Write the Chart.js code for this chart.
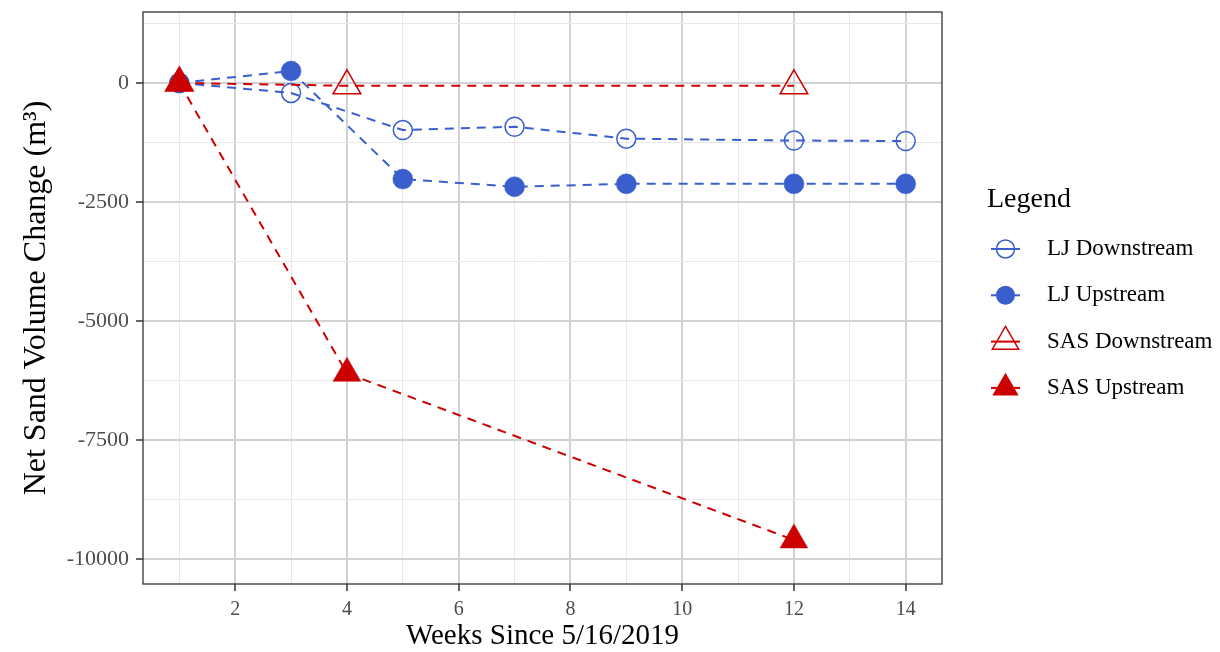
<!DOCTYPE html>
<html>
<head>
<meta charset="utf-8">
<script src="https://cdn.jsdelivr.net/npm/chart.js@4"></script>
<style>
body{margin:0;background:#fff;}
</style>
</head>
<body>
<canvas id="sandChart" width="1220" height="652"></canvas>
<script>

// weeks and net sand volume change (m3)
const ljDownWeeks = [1, 3, 5, 7, 9, 12, 14];
const ljDownValues = [0, -210, -990, -920, -1170, -1210, -1220];

const ljUpWeeks = [1, 3, 5, 7, 9, 12, 14];
const ljUpValues = [0, 250, -2020, -2180, -2120, -2120, -2120];

const sasDownWeeks = [1, 4, 12];
const sasDownValues = [0, -60, -60];

const sasUpWeeks = [1, 4, 12];
const sasUpValues = [0, -6100, -9600];

const seriesNames = ["LJ Downstream", "LJ Upstream", "SAS Downstream", "SAS Upstream"];

// axis ticks
const xGridValues = [1, 2, 3, 4, 5, 6, 7, 8, 9, 10, 11, 12, 13, 14];
const xLabelValues = [2, 4, 6, 8, 10, 12, 14];
const yGridValues = [1250, 0, -1250, -2500, -3750, -5000, -6250, -7500, -8750, -10000];
const yLabelValues = [0, -2500, -5000, -7500, -10000];

const blue = "#3A5FCD";
const red = "#CD0000";
const serif = "'Liberation Serif', 'Times New Roman', serif";

function pts(xs, ys){
  return xs.map((x, i) => ({x: x, y: ys[i]}));
}

const styles = [
  {color: blue, shape: "circle", filled: false, r: 9.5},
  {color: blue, shape: "circle", filled: true, r: 10},
  {color: red, shape: "triangle", filled: false, r: 16},
  {color: red, shape: "triangle", filled: true, r: 16}
];

const seriesData = [
  pts(ljDownWeeks, ljDownValues),
  pts(ljUpWeeks, ljUpValues),
  pts(sasDownWeeks, sasDownValues),
  pts(sasUpWeeks, sasUpValues)
];

const datasets = seriesNames.map((name, i) => {
  const s = styles[i];
  return {
    label: name,
    data: seriesData[i],
    borderColor: s.color,
    backgroundColor: s.color,
    borderWidth: 2,
    borderDash: [9, 7],
    fill: false,
    tension: 0,
    pointStyle: s.shape,
    pointRadius: s.r,
    pointBackgroundColor: s.filled ? s.color : "rgba(0,0,0,0)",
    pointBorderColor: s.color,
    pointBorderWidth: s.filled ? 0.5 : 1.5,
    order: 4 - i
  };
});

function drawMarker(ctx, s, x, y){
  ctx.save();
  ctx.beginPath();
  if(s.shape === "circle"){
    ctx.arc(x, y, s.r, 0, Math.PI * 2);
  } else {
    let a = 0;
    ctx.moveTo(x + Math.sin(a) * s.r, y - Math.cos(a) * s.r);
    a += Math.PI * 2 / 3;
    ctx.lineTo(x + Math.sin(a) * s.r, y - Math.cos(a) * s.r);
    a += Math.PI * 2 / 3;
    ctx.lineTo(x + Math.sin(a) * s.r, y - Math.cos(a) * s.r);
    ctx.closePath();
  }
  if(s.filled){
    ctx.fillStyle = s.color;
    ctx.fill();
  } else {
    ctx.strokeStyle = s.color;
    ctx.lineWidth = 1.5;
    ctx.stroke();
  }
  ctx.restore();
}

const ggExtras = {
  id: "ggExtras",
  afterDraw(chart){
    const ctx = chart.ctx;
    const a = chart.chartArea;
    // panel border
    ctx.save();
    ctx.strokeStyle = "#333333";
    ctx.lineWidth = 1.3;
    ctx.strokeRect(a.left, a.top, a.right - a.left, a.bottom - a.top);
    ctx.restore();

    // legend
    ctx.save();
    ctx.fillStyle = "#000";
    ctx.textBaseline = "middle";
    ctx.font = "28px " + serif;
    ctx.fillText("Legend", 987, 200);
    ctx.font = "23px " + serif;
    seriesNames.forEach((name, i) => {
      const y = 249 + i * 46.3;
      const s = styles[i];
      ctx.strokeStyle = s.color;
      ctx.lineWidth = 2;
      ctx.beginPath();
      ctx.moveTo(991, y);
      ctx.lineTo(1020, y);
      ctx.stroke();
      drawMarker(ctx, {color: s.color, shape: s.shape, filled: s.filled, r: s.r * 0.95}, 1005.5, y);
      ctx.fillStyle = "#000";
      ctx.fillText(name, 1047, y);
    });
    ctx.restore();
  }
};

new Chart("sandChart", {
  type: "line",
  data: {datasets: datasets},
  options: {
    responsive: false,
    animation: false,
    layout: {autoPadding: false, padding: {top: 12, right: 278, left: 0, bottom: 0}},
    plugins: {
      legend: {display: false},
      tooltip: {enabled: false}
    },
    scales: {
      x: {
        type: "linear",
        min: 0.35,
        max: 14.65,
        afterBuildTicks: (scale) => { scale.ticks = xGridValues.map(v => ({value: v})); },
        afterFit: (scale) => { scale.height = 68; scale.paddingLeft = 0; scale.paddingRight = 0; },
        border: {display: false},
        grid: {
          color: (c) => xLabelValues.includes(c.tick.value) ? "#d2d2d2" : "#e8e8e8",
          lineWidth: (c) => xLabelValues.includes(c.tick.value) ? 2 : 1,
          tickColor: (c) => xLabelValues.includes(c.tick.value) ? "#333333" : "rgba(0,0,0,0)",
          tickLength: 7,
          tickWidth: 1.5
        },
        ticks: {
          autoSkip: false,
          maxRotation: 0,
          padding: 7,
          color: "#4d4d4d",
          font: {family: serif, size: 20},
          callback: (v) => xLabelValues.includes(v) ? String(v) : ""
        },
        title: {
          display: true,
          text: "Weeks Since 5/16/2019",
          color: "#000",
          font: {family: serif, size: 29, lineHeight: 1.0},
          padding: {top: 1, bottom: 1}
        }
      },
      y: {
        type: "linear",
        min: -10525,
        max: 1490,
        afterBuildTicks: (scale) => { scale.ticks = yGridValues.map(v => ({value: v})); },
        afterFit: (scale) => { scale.width = 143; scale.paddingTop = 0; scale.paddingBottom = 0; },
        border: {display: false},
        grid: {
          color: (c) => yLabelValues.includes(c.tick.value) ? "#d2d2d2" : "#e8e8e8",
          lineWidth: (c) => yLabelValues.includes(c.tick.value) ? 2 : 1,
          tickColor: (c) => yLabelValues.includes(c.tick.value) ? "#333333" : "rgba(0,0,0,0)",
          tickLength: 7,
          tickWidth: 1.5
        },
        ticks: {
          autoSkip: false,
          padding: 7,
          color: "#4d4d4d",
          font: {family: serif, size: 22},
          callback: (v) => yLabelValues.includes(v) ? String(v) : ""
        },
        title: {
          display: true,
          text: "Net Sand Volume Change (m³)",
          color: "#000",
          font: {family: serif, size: 32, lineHeight: 1.2},
          padding: {top: 17, bottom: 17}
        }
      }
    }
  },
  plugins: [ggExtras]
});

</script>
</body>
</html>
